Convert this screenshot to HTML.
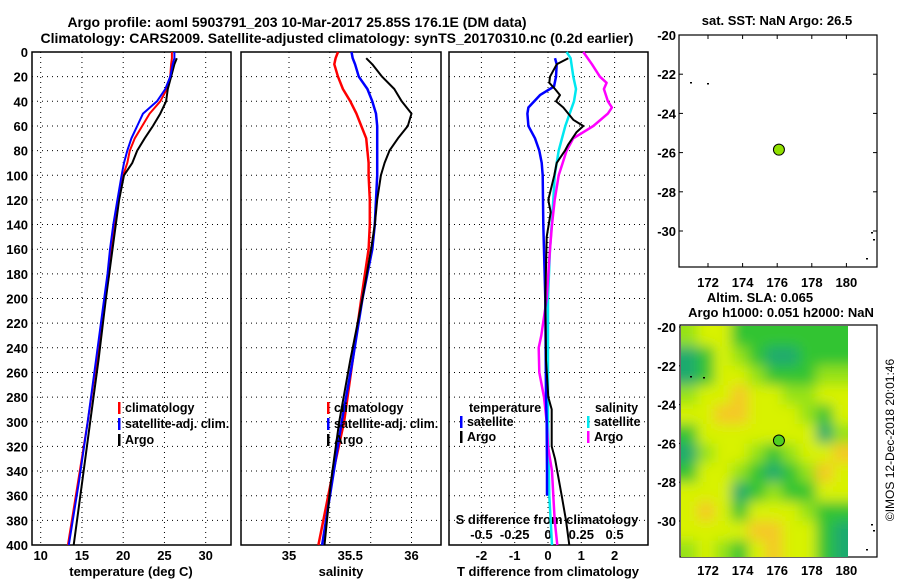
<!DOCTYPE html>
<html><head><meta charset="utf-8"><style>
body{margin:0;background:#fff;}
svg text{font-family:"Liberation Sans",sans-serif;font-weight:bold;fill:#000;}
</style></head><body>
<svg id="c" width="900" height="580" viewBox="0 0 900 580" xmlns="http://www.w3.org/2000/svg">
<defs>
<clipPath id="heatclip"><rect x="681" y="326" width="167" height="231"/></clipPath>
<filter id="blur" x="-10%" y="-10%" width="120%" height="120%"><feGaussianBlur stdDeviation="6.5"/></filter>
</defs>
<text x="297" y="27" font-size="14" text-anchor="middle">Argo profile: aoml 5903791_203 10-Mar-2017 25.85S 176.1E (DM data)</text>
<text x="337" y="43" font-size="14" text-anchor="middle">Climatology: CARS2009. Satellite-adjusted climatology: synTS_20170310.nc (0.2d earlier)</text>
<g id="g"></g>
</svg>
<script>
// ---- data ----
var tDepths = [0,5,10,20,30,40,50,60,70,80,90,100,120,140,160,180,200,250,300,350,400];
var tClim   = [25.9,25.9,25.8,25.7,25.3,24.5,23.2,22.3,21.4,20.8,20.5,20.0,19.4,18.9,18.5,18.3,17.8,16.8,15.7,14.5,13.3];
var tSat    = [26.2,26.2,26.0,25.7,25.1,24.1,22.4,21.7,21.0,20.5,20.1,19.8,19.3,18.8,18.4,18.1,17.7,16.7,15.7,14.6,13.4];
var tArgo   = [null,26.5,26.2,25.8,25.4,25.2,24.5,23.6,22.6,21.7,21.1,20.1,19.5,19.1,18.7,18.3,17.9,17.0,16.0,15.0,14.0];
var sDepths = [0,5,10,20,30,40,50,60,70,80,90,100,120,140,160,200,250,300,350,400];
var sClim   = [35.40,35.38,35.37,35.40,35.44,35.50,35.55,35.59,35.63,35.64,35.65,35.65,35.66,35.66,35.65,35.59,35.52,35.45,35.34,35.24];
var sSat    = [35.51,35.52,35.54,35.57,35.64,35.68,35.71,35.72,35.72,35.72,35.72,35.72,35.71,35.70,35.68,35.60,35.52,35.43,35.35,35.27];
var sArgo   = [null,35.63,35.68,35.76,35.86,35.92,36.00,35.97,35.89,35.82,35.78,35.75,35.72,35.70,35.67,35.60,35.50,35.41,35.34,35.29];
var dtDepths = [5,10,20,28,35,45,50,60,70,80,90,100,140,200,280,300,340,360];
var dtSat    = [0.21,0.26,0.24,0.18,-0.24,-0.59,-0.62,-0.59,-0.39,-0.26,-0.19,-0.16,-0.14,-0.08,-0.06,-0.04,-0.03,-0.03];
var daDepths = [5,10,20,25,30,35,40,45,55,60,65,75,80,90,100,120,130,150,200,250,280,290,320,330,360,380,400];
var dtArgo   = [0.61,0.26,0.06,0.04,0.21,0.36,0.24,0.46,0.76,1.06,0.86,0.61,0.51,0.26,0.19,0.01,0.08,-0.04,-0.08,-0.06,0.01,0.11,0.11,0.21,0.41,0.54,0.64];
var dsDepths = [0,5,20,30,40,60,80,100,120,160,200,300,360,400];
var dsSat    = [0.14,0.17,0.19,0.21,0.195,0.13,0.08,0.05,0.04,0.015,0.0,0.0,0.01,0.03];
var dmDepths = [0,10,20,25,30,40,45,50,60,70,80,90,100,120,140,160,200,230,240,260,280,300,320,340,360,380,400];
var dsArgo   = [0.265,0.33,0.39,0.44,0.42,0.45,0.48,0.45,0.34,0.19,0.14,0.11,0.08,0.05,0.03,0.015,-0.01,-0.05,-0.07,-0.065,-0.03,-0.01,0,0.03,0.04,0.05,0.07];
var depthTicks = [0,20,40,60,80,100,120,140,160,180,200,220,240,260,280,300,320,340,360,380,400];
var tTicks = [10,15,20,25,30];
var sTickLabels = [35,35.5,36];
var sGrid = [35,35.333,35.667,36];
var dTTicks = [-2,-1,0,1,2];
var dSTicks = [-0.5,-0.25,0,0.25,0.5];
var latTicks = [-20,-22,-24,-26,-28,-30];
var lonTicks = [172,174,176,178,180];
var argoLon = 176.1, argoLat = -25.85;
// SLA field (rows lat -20.5..-31.5, cols lon 170.9..179.9), roughly: -1 low, 3 high
var slaGrid = [
 [1,0,0,2,2,2,2,2,2,2],
 [3,2,0,1,2,3,3,2,2,2],
 [3,2,0,0,1,2,2,2,1,1],
 [1,0,0,-1,0,0,1,1,0,0],
 [0,0,-1,-1,0,0,0,1,2,0],
 [2,0,0,0,0,0,0,0,3,1],
 [3,1,0,0,1,2,1,0,0,-1],
 [2,0,0,1,2,3,2,1,-1,0],
 [0,0,0,3,2,1,2,2,0,0],
 [0,-1,0,2,0,0,0,1,2,2],
 [0,0,0,0,-1,-1,0,0,2,3],
 [1,0,1,2,0,-1,0,0,2,3]
];
// ---- drawing ----
var NS='http://www.w3.org/2000/svg', G=document.getElementById('g');
function el(tag,attrs,parent){var e=document.createElementNS(NS,tag);for(var k in attrs)e.setAttribute(k,attrs[k]);(parent||G).appendChild(e);return e;}
function txt(x,y,s,size,anchor,parent){var t=el('text',{x:x,y:y,'font-size':size,'text-anchor':anchor||'middle'},parent);t.textContent=s;return t;}
var Y0=52,Y1=545;
function yD(d){return Y0+(Y1-Y0)*d/400;}
var panels=[{l:32,r:231},{l:241,r:441},{l:449,r:648}];
function xT(v){return 40.7+(v-10)*8.25;}
function xS(v){return 289+(v-35)*122.5;}
function xDT(v){return 548+v*33.3;}
function xDS(v){return 548+v*133.2;}
// grids
panels.forEach(function(p,i){
  var gg=el('g',{});
  
  
  depthTicks.forEach(function(d){ if(d>0&&d<400) el('line',{x1:p.l,x2:p.r,y1:yD(d),y2:yD(d),stroke:'#000','stroke-dasharray':'1 4','stroke-width':1},gg);});
  var xs = i==0? tTicks.map(xT) : i==1? sGrid.map(xS) : dTTicks.map(xDT);
  xs.forEach(function(x){ el('line',{x1:x,x2:x,y1:Y0,y2:Y1,stroke:'#000','stroke-dasharray':'1 4','stroke-width':1},gg);});
  var fr=el('rect',{x:p.l,y:Y0,width:p.r-p.l,height:Y1-Y0,fill:'none',stroke:'#000','stroke-width':1.5});
  
  
});
depthTicks.forEach(function(d){
  var t=txt(28,yD(d)+5,String(d),13,'end');
  
  
});
tTicks.forEach(function(v){var t=txt(xT(v),560,String(v),13);});
sTickLabels.forEach(function(v){var t=txt(xS(v),560,String(v),13);});
dTTicks.forEach(function(v){var t=txt(xDT(v),560,String(v),13);});
dSTicks.forEach(function(v){var t=txt(xDS(v),539,String(v),13);});
var at;
at=txt(131,576,'temperature (deg C)',13);
at=txt(341,576,'salinity',13);
at=txt(548,576,'T difference from climatology',13);
at=txt(547,524,'S difference from climatology',13);
function line(depths,vals,xf,color,w,name){
  var pts=[];for(var i=0;i<depths.length;i++){if(vals[i]==null)continue;pts.push(xf(vals[i]).toFixed(1)+','+yD(depths[i]).toFixed(1));}
  var pl=el('polyline',{points:pts.join(' '),fill:'none',stroke:color,'stroke-width':w,'stroke-linejoin':'round'});
  
  
}
line(tDepths,tClim,xT,'#f00',2,'temp-climatology-line');
line(tDepths,tArgo,xT,'#000',2,'temp-argo-line');
line(tDepths,tSat,xT,'#00f',2,'temp-satellite-line');
line(sDepths,sClim,xS,'#f00',2.5,'salinity-climatology-line');
line(sDepths,sSat,xS,'#00f',2.5,'salinity-satellite-line');
line(sDepths,sArgo,xS,'#000',2,'salinity-argo-line');
line(dsDepths,dsSat,xDS,'#00e8f0',2.5,'sdiff-satellite-line');
line(dmDepths,dsArgo,xDS,'#f0f',2.5,'sdiff-argo-line');
line(dtDepths,dtSat,xDT,'#00f',2.5,'tdiff-satellite-line');
line(daDepths,dtArgo,xDT,'#000',2,'tdiff-argo-line');
// legends
function leg(x,y,color,label,name){
  var g=el('g',{});
  if(color) el('rect',{x:x,y:y-10,width:2.5,height:12,fill:color},g);
  txt(x+7,y,label,12.5,'start',g);
}
leg(118,412,'#f00','climatology','legend-climatology');
leg(118,428,'#00f','satellite-adj. clim.','legend-satellite-adj');
leg(118,444,'#000','Argo','legend-argo');
leg(327,412,'#f00','climatology','legend-sal-climatology');
leg(327,428,'#00f','satellite-adj. clim.','legend-sal-satellite-adj');
leg(327,444,'#000','Argo','legend-sal-argo');
leg(462,412,null,'temperature','legend-temperature-header');
leg(460,426,'#00f','satellite','legend-t-satellite');
leg(460,441,'#000','Argo','legend-t-argo');
leg(588,412,null,'salinity','legend-salinity-header');
leg(587,426,'#00e8f0','satellite','legend-s-satellite');
leg(587,441,'#f0f','Argo','legend-s-argo');
// maps
function lonX(v){return 708+(v-172)*17.3;}
function topY(v){return 35+(-20-v)*19.6;}
function botY(v){return 327+(-20-v)*19.4;}
var mt=txt(777,25,'sat. SST: NaN Argo: 26.5',13);
var fr1=el('rect',{x:679,y:35,width:198,height:232,fill:'#fff',stroke:'#000','stroke-width':1.2});

latTicks.forEach(function(v){
  el('line',{x1:679,x2:683,y1:topY(v),y2:topY(v),stroke:'#000'});el('line',{x1:873,x2:877,y1:topY(v),y2:topY(v),stroke:'#000'});
  var t=txt(676,topY(v)+5,String(v),13,'end');
  el('line',{x1:679,x2:683,y1:botY(v),y2:botY(v),stroke:'#000'});el('line',{x1:873,x2:877,y1:botY(v),y2:botY(v),stroke:'#000'});
  var t2=txt(676,botY(v)+5,String(v),13,'end');
});
lonTicks.forEach(function(v){
  el('line',{x1:lonX(v),x2:lonX(v),y1:35,y2:39,stroke:'#000'});el('line',{x1:lonX(v),x2:lonX(v),y1:263,y2:267,stroke:'#000'});
  var t=txt(lonX(v),287,String(v),13);
  var t2=txt(lonX(v),575,String(v),13);
});
[[690,82],[707,83],[871,232],[873,239],[866,258]].forEach(function(p){el('rect',{x:p[0],y:p[1],width:2,height:1.5,fill:'#000'});});
var d1=el('circle',{cx:lonX(argoLon),cy:topY(argoLat),r:5.5,fill:'#90e000',stroke:'#000','stroke-width':1});

var m2=txt(760,302,'Altim. SLA: 0.065',13);
var m3=txt(781,317,'Argo h1000: 0.051 h2000: NaN',13);
var fr2=el('rect',{x:680,y:325,width:197,height:232,fill:'#fff',stroke:'#000','stroke-width':1.2});

var colors={'-1':[245,200,40],'0':[216,242,0],'1':[150,226,20],'2':[50,196,50],'3':[30,170,110]};
var hg=el('g',{'clip-path':'url(#heatclip)'});

el('rect',{x:681,y:326,width:167,height:231,fill:'rgb(216,242,0)'},hg);
var bg=el('g',{filter:'url(#blur)'},hg);
slaGrid.forEach(function(row,ri){row.forEach(function(v,ci){
  var c=colors[String(v)];
  var x0=lonX(170.4+ci*0.98), y0=botY(-20-ri);
  var cx0=ci==0?x0-15:x0, cw=(ci==0?15:0)+(ci==9?20:0)+17.3*0.98+1;
  var cy0=ri==0?y0-15:y0, ch=(ri==0?15:0)+(ri==11?20:0)+19.4+1;
  var r=el('rect',{x:cx0,y:cy0,width:cw,height:ch,fill:'rgb('+c.join(',')+')'},bg);
  
  
});});
[[690,376],[703,377]].forEach(function(p){el('rect',{x:p[0],y:p[1],width:2,height:1.5,fill:'#000'});});
[[871,524],[873,530],[866,549]].forEach(function(p){el('rect',{x:p[0],y:p[1],width:2,height:1.5,fill:'#000'});});
var d2=el('circle',{cx:lonX(argoLon),cy:botY(argoLat),r:5.5,fill:'#50d020',stroke:'#000','stroke-width':1});

var cr=txt(0,0,'\u00a9IMOS 12-Dec-2018 20:01:46',12,'middle');
cr.setAttribute('transform','translate(894,440) rotate(-90)');
cr.setAttribute('style','font-weight:normal');


</script>
</body></html>
